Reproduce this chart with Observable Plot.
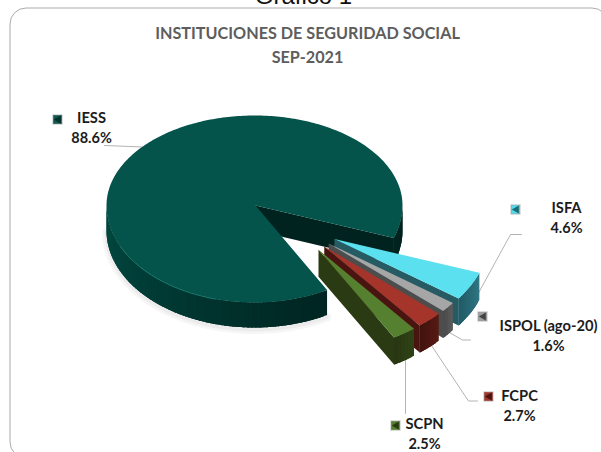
<!DOCTYPE html>
<html>
<head>
<meta charset="utf-8">
<script src="https://cdn.jsdelivr.net/npm/d3@7"></script>
<script src="https://cdn.jsdelivr.net/npm/@observablehq/plot@0.6"></script>
<style>html,body{margin:0;padding:0;background:#fff;overflow:hidden}svg{display:block}</style>
</head>
<body>
<div id="chart"></div>
<script>
// ---- data ----
const instituciones = ["IESS", "ISFA", "ISPOL (ago-20)", "FCPC", "SCPN"];
const porcentajes = [88.6, 4.6, 1.6, 2.7, 2.5];
const tituloLineas = ["INSTITUCIONES DE SEGURIDAD SOCIAL", "SEP-2021"];
const encabezado = "Gráfico 1";

// ---- style ----
const topColors = ["#04544b", "#5ae0ef", "#a6a6a6", "#a5352a", "#558030"];
const wallNear = ["#002421", "#1f5a65", "#474747", "#3f120d", "#263511"];
const wallFar = ["#024a42", "#2f7683", "#5a5a5a", "#561a14", "#2f4216"];
const cutColors = ["#00231f", "#265b63", "#4d4d4d", "#4a1510", "#2a3a12"];
const keyColors = ["#0b5a50", "#55dbe9", "#a0a0a0", "#a5352a", "#558030"];
const keyMarks = ["#022f2a", "#1f6a75", "#444444", "#4a1510", "#2a3a12"];

// ---- layout ----
const pie = {cx: 254, cy: 205, rx: 148, ryUp: 90, ryDown: 97, depth: 25, startDeg: 19.6, explode: 0.65, squeeze: 0.5, pivotDeg: 42, sliceScale: 1.04};
const labelPos = [[91, 118], [566, 208], [548, 326], [519, 396], [424, 424]];
const keyPos = [[57, 119], [515, 209], [482, 316], [488, 396], [395, 425]];
const leaders = [
  [[104, 145], [143, 146.5]],
  [[521, 234], [510, 234], [475, 298]],
  [[470, 339.5], [462, 339.5], [447, 331]],
  [[477, 400.5], [468, 400.5], [431, 345]],
  [[405, 413], [405, 357]]
];

// ---- geometry derived from the values ----
const rad = d => d * Math.PI / 180;
const rim = (t, ox = 0, oy = 0, dz = 0, k = 1) => {
  const s = Math.sin(rad(t));
  return {x: pie.cx + ox + k * pie.rx * Math.cos(rad(t)), y: pie.cy + oy + dz + k * (s > 0 ? pie.ryDown : pie.ryUp) * s};
};
const total = d3.sum(porcentajes);
const sweeps = porcentajes.map(p => p / total * 360);
const span = [];
let cur = pie.startDeg;
for (let i = 1; i < sweeps.length; i++) { span[i] = [cur, cur + sweeps[i]]; cur += sweeps[i]; }
span[0] = [cur, cur + sweeps[0]];

const rows = [];
let pid = 0;
function poly(points, c) {
  pid++;
  for (const p of points) rows.push({id: pid, x: p.x, y: p.y, c});
}
// outer wall: overlapping bands painted from its start to its end, so no seams show
function outerWall(a, b, i, ox, oy, depth, shade, k = 1) {
  const mix = d3.interpolateRgb(wallFar[i], wallNear[i]);
  const step = 1.5;
  for (let t = a; t < b; t += step) {
    const e = Math.min(t + step * 2.5, b);
    const top = d3.range(t, e, 0.5).concat([e]);
    poly([...top.map(u => rim(u, ox, oy, 0, k)), ...top.reverse().map(u => rim(u, ox, oy, depth, k))], mix(shade(t)));
  }
}
function arc(a, b, ox, oy, dz = 0, k = 1) {
  return d3.range(a, b, 1).concat([b]).map(t => rim(t, ox, oy, dz, k));
}
// IESS body
const [a0, b0] = span[0];
outerWall(a0, 180, 0, 0, 0, pie.depth, t => Math.max(0, Math.min(1, (180 - t) / 120)));
outerWall(360, b0, 0, 0, 0, pie.depth, () => 1);
const apex0 = {x: pie.cx + 1, y: pie.cy};
poly([apex0, rim(b0), rim(b0, 0, 0, pie.depth), {x: apex0.x, y: apex0.y + pie.depth}], cutColors[0]);
poly([apex0, ...arc(a0, b0, 0, 0)], topColors[0]);
// exploded slices
const sliceDepth = 27;
for (let i = 1; i < sweeps.length; i++) {
  const [a, b] = span[i];
  const mid = (a + b) / 2;
  const dir = pie.pivotDeg + (mid - pie.pivotDeg) * pie.squeeze;
  const ox = pie.explode * pie.rx * Math.cos(rad(dir)) + 1;
  const oy = pie.explode * pie.ryUp * Math.sin(rad(dir));
  const ap = {x: pie.cx + ox, y: pie.cy + oy};
  const k = pie.sliceScale;
  outerWall(a, b, i, ox, oy, sliceDepth, t => (t - a) / (b - a), k);
  poly([ap, rim(b, ox, oy, 0, k), rim(b, ox, oy, sliceDepth, k), {x: ap.x, y: ap.y + sliceDepth}], cutColors[i]);
  poly([ap, ...arc(a, b, ox, oy, 0, k)], topColors[i]);
}
const rimGlow = arc(105, 155, 0, 0);
const shadowEdge = arc(a0, 180, 0, 0, pie.depth + 2);
const leaderRows = leaders.flatMap((l, i) => l.map(([x, y]) => ({i, x, y})));

const labels = instituciones.map((n, i) => ({n, x: labelPos[i][0], y: labelPos[i][1], v: porcentajes[i].toFixed(1) + "%", i}));
const keys = instituciones.map((n, i) => ({x: keyPos[i][0], y: keyPos[i][1], c: keyColors[i], m: keyMarks[i]}));
const font = "Lato, 'Open Sans', sans-serif";

const chart = Plot.plot({
  width: 601, height: 452,
  margin: 0,
  x: {domain: [0, 601], range: [0, 601], axis: null},
  y: {domain: [0, 452], range: [0, 452], axis: null},
  style: {background: "#fff", overflow: "hidden"},
  marks: [
    Plot.text([encabezado], {x: () => 303, y: () => 3, text: d => d, fontFamily: "Liberation Sans", fontSize: 24, lineAnchor: "bottom", fill: "#111"}),
    Plot.rect([0], {x1: () => 10, x2: () => 608, y1: () => 8, y2: () => 458, rx: 16, fill: "#fff", stroke: "#ababab", strokeWidth: 1}),
    Plot.line(shadowEdge, {x: "x", y: "y", stroke: "#000", strokeOpacity: 0.035, strokeWidth: 9}),
    Plot.line(shadowEdge, {x: "x", y: "y", stroke: "#000", strokeOpacity: 0.04, strokeWidth: 4}),
    Plot.line(leaderRows, {x: "x", y: "y", z: "i", stroke: "#b4b4b4", strokeWidth: 1, curve: "linear"}),
    Plot.line(rows, {x: "x", y: "y", z: "id", fill: "c", stroke: "none"}),
    Plot.line(rimGlow, {x: "x", y: "y", stroke: "#1b8474", strokeWidth: 1, strokeOpacity: 0.7}),
    Plot.text(tituloLineas, {x: () => 307, y: (d, i) => 33 + i * 24, text: d => d, fontFamily: font, fontWeight: 700, fontSize: 16.2, fill: "#5d5d5d"}),
    Plot.dot(keys, {x: "x", y: "y", symbol: "square", r: 5, fill: "c", stroke: "#8a8a8a", strokeOpacity: 0.4}),
    Plot.dot(keys, {x: "x", y: "y", symbol: "triangle", r: 3, rotate: -90, dx: 1, fill: "m"}),
    Plot.text(labels, {x: "x", y: "y", text: "n", fontFamily: font, fontWeight: 700, fontSize: 14.7, fill: "#1c1c1c"}),
    Plot.text(labels, {x: "x", y: "y", dy: 20, text: "v", fontFamily: font, fontWeight: 700, fontSize: 14.5, fill: "#1c1c1c"})
  ]
});
document.getElementById("chart").appendChild(chart);
</script>
</body>
</html>
